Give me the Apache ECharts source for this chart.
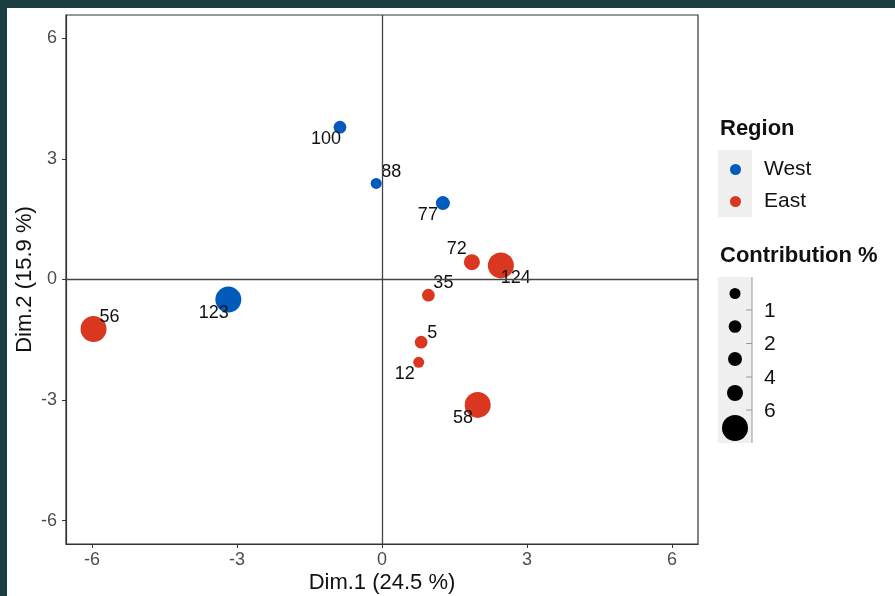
<!DOCTYPE html>
<html>
<head>
<meta charset="utf-8">
<script src="https://cdn.jsdelivr.net/npm/echarts@6/dist/echarts.min.js"></script>
<style>
html,body{margin:0;padding:0;background:#fff;}
#c{width:895px;height:596px;}
</style>
</head>
<body>
<div id="c"></div>
<script>
// ---- data ----
const ids = ['100', '88', '77', '72', '124', '35', '123', '56', '5', '12', '58'];
const dim1 = [-0.87, -0.12, 1.26, 1.86, 2.46, 0.96, -3.18, -5.97, 0.81, 0.76, 1.98];
const dim2 = [3.79, 2.39, 1.90, 0.43, 0.35, -0.39, -0.50, -1.23, -1.56, -2.06, -3.12];
const region = ['West', 'West', 'West', 'East', 'East', 'East', 'West', 'East', 'East', 'East', 'East'];
const contrib = [1.5, 0.7, 3.0, 5.0, 9.5, 1.4, 10.2, 10.5, 1.6, 0.8, 9.8];
const regions = ['West', 'East'];
const xTicks = [-6, -3, 0, 3, 6];
const yTicks = [-6, -3, 0, 3, 6];
const sizeBreaks = [1, 2, 4, 6];
const xTitle = 'Dim.1 (24.5 %)';
const yTitle = 'Dim.2 (15.9 %)';

// ---- styles ----
const FONT = '"Liberation Sans", Arial, sans-serif';
const colors = { West: '#005BBB', East: '#DA3721' };
const binSizes = [11, 12.7, 14, 16, 26];
function sizeOf(c) {
  for (let i = 0; i < sizeBreaks.length; i++) if (c < sizeBreaks[i]) return binSizes[i];
  return binSizes[binSizes.length - 1];
}
const labelOffsets = {
  '100': [-14, 12], '88': [15, -11.5], '77': [-15, 12], '72': [-15, -13],
  '124': [15, 13], '35': [15, -12], '123': [-14.5, 13], '56': [16, -12],
  '5': [11, -9], '12': [-14, 12], '58': [-14.7, 13]
};

const series = regions.map(r => ({
  name: r,
  type: 'scatter',
  z: 3,
  itemStyle: { color: colors[r], opacity: 1 },
  symbolSize: v => sizeOf(v[2]),
  label: {
    show: true, position: 'inside', formatter: p => p.name,
    fontSize: 18, fontFamily: FONT, color: '#111'
  },
  emphasis: { disabled: true },
  data: ids.map((id, i) => ({ i, id })).filter(o => region[o.i] === r).map(o => ({
    name: o.id,
    value: [dim1[o.i], dim2[o.i], contrib[o.i]],
    label: { offset: labelOffsets[o.id] }
  }))
}));

series.unshift({
  type: 'scatter', data: [], silent: true, z: 1,
  markLine: {
    silent: true, symbol: 'none', animation: false,
    label: { show: false },
    lineStyle: { color: '#444', width: 1.3, type: 'solid' },
    data: [{ xAxis: 0 }, { yAxis: 0 }]
  }
});

// size legend graphics
const sizeLegend = [];
const dotYs = [293.5, 326.5, 359, 393, 428];
sizeLegend.push({ type: 'rect', shape: { x: 718, y: 277, width: 34, height: 166 }, style: { fill: '#F0F0F0' }, z: 0 });
sizeLegend.push({ type: 'line', shape: { x1: 752, y1: 277, x2: 752, y2: 443 }, style: { stroke: '#999', lineWidth: 1 }, z: 1 });
binSizes.forEach((s, k) => {
  sizeLegend.push({ type: 'circle', shape: { cx: 735, cy: dotYs[k], r: s / 2 }, style: { fill: '#000' }, z: 2 });
});
const tickYs = [310, 343.5, 377, 410];
sizeBreaks.forEach((b, k) => {
  sizeLegend.push({ type: 'line', shape: { x1: 746, y1: tickYs[k], x2: 752, y2: tickYs[k] }, style: { stroke: '#999', lineWidth: 1 }, z: 1 });
  sizeLegend.push({ type: 'text', x: 764, y: tickYs[k] + 1, style: { text: String(b), font: '21px ' + FONT, fill: '#111', textVerticalAlign: 'middle' }, z: 2 });
});

const chart = echarts.init(document.getElementById('c'));
chart.setOption({
  animation: false,
  backgroundColor: '#fff',
  textStyle: { fontFamily: FONT },
  grid: { left: 66, right: 197, top: 15, bottom: 52, show: true, borderColor: '#333', borderWidth: 1.2, backgroundColor: '#fff', outerBoundsMode: 'none', containLabel: false },
  xAxis: {
    type: 'value', min: -6.54, max: 6.54,
    axisLine: { show: true, onZero: false, lineStyle: { color: '#333', width: 1.2 } },
    axisTick: { show: true, inside: false, length: 4, lineStyle: { color: '#333', width: 1 }, customValues: xTicks },
    axisLabel: { customValues: xTicks, fontSize: 18, color: '#4d4d4d', margin: 7, fontFamily: FONT },
    splitLine: { show: false },
    name: xTitle, nameLocation: 'middle', nameGap: 28, nameMoveOverlap: false,
    nameTextStyle: { fontSize: 22, color: '#111', fontFamily: FONT }
  },
  yAxis: {
    type: 'value', min: -6.58, max: 6.58,
    axisLine: { show: true, onZero: false, lineStyle: { color: '#333', width: 1.2 } },
    axisTick: { show: true, inside: false, length: 4, lineStyle: { color: '#333', width: 1 }, customValues: yTicks },
    axisLabel: { customValues: yTicks, fontSize: 18, color: '#4d4d4d', margin: 9, fontFamily: FONT },
    splitLine: { show: false },
    name: yTitle, nameLocation: 'middle', nameGap: 30, nameRotate: 90, nameMoveOverlap: false,
    nameTextStyle: { fontSize: 22, color: '#111', fontFamily: FONT }
  },
  legend: {
    data: regions, orient: 'vertical', left: 730, top: 159, padding: 0,
    icon: 'circle', itemWidth: 11, itemHeight: 11, itemGap: 11,
    selectedMode: false,
    textStyle: { fontSize: 21, color: '#111', fontFamily: FONT, padding: [0, 0, 0, 18] }
  },
  graphic: [
    { type: 'rect', shape: { x: 0, y: 0, width: 895, height: 8 }, style: { fill: '#1B3E43' }, z: 10 },
    { type: 'rect', shape: { x: 0, y: 0, width: 7, height: 596 }, style: { fill: '#1B3E43' }, z: 10 },
    { type: 'text', x: 720, y: 129, style: { text: 'Region', font: 'bold 22px ' + FONT, fill: '#111', textVerticalAlign: 'middle' } },
    { type: 'rect', shape: { x: 718, y: 150, width: 34, height: 67 }, style: { fill: '#F0F0F0' }, z: 0 },
    { type: 'text', x: 720, y: 256, style: { text: 'Contribution %', font: 'bold 22px ' + FONT, fill: '#111', textVerticalAlign: 'middle' } }
  ].concat(sizeLegend),
  series: series
});
</script>
</body>
</html>
